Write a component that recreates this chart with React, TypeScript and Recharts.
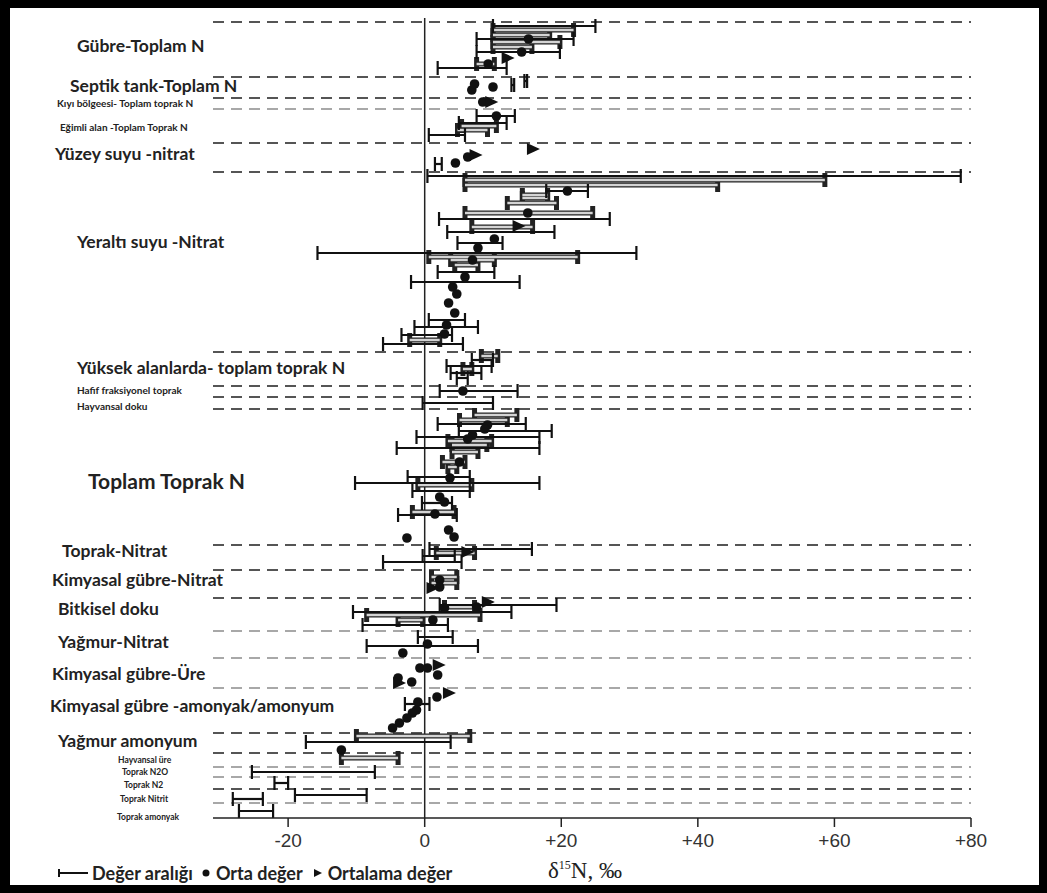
import React from "react";
import { ScatterChart, Scatter, XAxis, YAxis, ErrorBar, ReferenceLine } from "recharts";

// rows: 0 = top of the plot, 800 = the δ15N axis
const categories = [
  "Gübre-Toplam N",
  "Septik tank-Toplam N",
  "Kıyı bölgeesi- Toplam toprak N",
  "Eğimli alan -Toplam Toprak N",
  "Yüzey suyu -nitrat",
  "Yeraltı suyu -Nitrat",
  "Yüksek alanlarda- toplam toprak N",
  "Hafif fraksiyonel toprak",
  "Hayvansal doku",
  "Toplam Toprak N",
  "Toprak-Nitrat",
  "Kimyasal gübre-Nitrat",
  "Bitkisel doku",
  "Yağmur-Nitrat",
  "Kimyasal gübre-Üre",
  "Kimyasal gübre -amonyak/amonyum",
  "Yağmur amonyum",
  "Hayvansal üre",
  "Toprak N2O",
  "Toprak N2",
  "Toprak Nitrit",
  "Toprak amonyak",
];
const categoryRows = [28, 68, 85, 109, 136, 224, 350, 372, 388, 464, 533, 562, 591, 624, 656, 688, 723, 742, 754, 767, 781, 799];

const separatorRows = [4, 59, 80, 91, 125, 154, 334, 368, 379, 391, 527, 552, 580, 613, 640, 670, 715, 735, 749, 759, 771, 785];

const xTicks = [-20, 0, 20, 40, 60, 80];

// [low, high, row]
const rangeLines: [number, number, number][] = [
  [10, 25, 8], [7.6, 21.8, 21], [7.6, 19.8, 34], [1.9, 12, 50],
  [12.7, 13.1, 67], [14.6, 15.0, 63],
  [7.6, 13.2, 98], [5.0, 12, 105], [0.6, 5.9, 117],
  [1.5, 2.5, 146],
  [0.4, 78.5, 158], [17.8, 23.9, 173], [2.1, 27.1, 201], [3.3, 19.0, 214], [4.8, 11.4, 225],
  [-15.7, 31.0, 235], [1.9, 10.2, 254], [-2.0, 13.9, 264], [0.6, 5.9, 302], [-1.5, 7.8, 309],
  [-3.4, 4.0, 317], [-6.1, 5.6, 326],
  [6.9, 10, 342], [3.2, 9.8, 348], [3.8, 8.3, 355], [4.7, 6.3, 360],
  [2.2, 13.6, 373],
  [-0.3, 10.0, 385],
  [1.9, 14.8, 406], [5.0, 18.6, 413], [-1.2, 16.8, 419], [-4.1, 16.8, 430], [-2.5, 6.6, 459],
  [-10.2, 16.8, 465], [-1.8, 6.6, 473], [-0.4, 4.0, 485], [-3.9, 4.7, 497],
  [0.7, 15.7, 531], [-0.3, 4.4, 538], [-6.1, 5.4, 544],
  [2.2, 19.3, 587], [-10.5, 12.7, 594], [-9.1, 3.4, 607],
  [-1.0, 4.1, 619], [-8.5, 7.8, 628],
  [-2.9, 0.7, 686],
  [-17.4, 3.8, 724],
  [-25.3, -7.3, 754],
  [-22, -20, 765],
  [-19, -8.5, 777], [-28.1, -23.7, 781],
  [-27.2, -22.2, 793],
];

const rangeBoxes: [number, number, number][] = [
  [10, 21.8, 12], [10, 18.3, 17], [10, 19.8, 24], [10, 15.7, 29], [7.6, 10.2, 46],
  [5.4, 10.5, 108], [4.8, 9.2, 112],
  [5.9, 58.6, 162], [5.9, 42.9, 167], [14.3, 18, 177], [14.3, 18, 180], [12.1, 19.3, 185],
  [5.9, 24.6, 195], [6.9, 15.8, 209], [0.6, 22.4, 239], [3.8, 10.2, 242], [4.4, 7.8, 247],
  [-2.2, 2.2, 322],
  [8.3, 10.7, 338], [5.6, 6.9, 351],
  [7.3, 13.5, 397], [5.1, 12.1, 402], [3.4, 9.8, 423], [4.0, 9.1, 427], [4.0, 7.8, 434],
  [2.6, 5.9, 444], [3.4, 4.7, 449], [-1.0, 6.9, 467], [-1.8, 4.3, 494],
  [1.7, 7.3, 535],
  [1.0, 4.7, 559], [1.0, 4.7, 565],
  [2.9, 7.3, 589], [-8.5, 8.1, 597], [-3.9, -0.3, 602],
  [-10, 6.6, 718],
  [-12.2, -3.9, 740],
];

// [value, row]
const medians: [number, number][] = [
  [15.2, 21], [14.2, 34], [9.3, 46],
  [6.9, 72], [7.3, 66], [10.0, 69],
  [8.5, 84],
  [10.5, 98],
  [6.3, 139], [4.5, 145],
  [20.9, 173], [15.1, 195], [10.2, 221], [7.8, 230], [7.0, 242], [5.9, 259], [4.1, 269],
  [4.7, 276], [3.5, 285], [4.4, 295], [3.2, 307], [2.9, 316],
  [5.6, 373],
  [9.2, 407], [8.8, 411], [7.0, 417], [6.3, 421], [5.1, 444], [3.7, 460], [2.2, 479],
  [2.9, 484], [1.5, 496], [3.5, 512], [4.3, 519], [-2.6, 520],
  [2.2, 562], [2.2, 569],
  [2.9, 590], [7.6, 589], [1.2, 602],
  [0.4, 626], [-3.2, 635],
  [-0.7, 650], [0.4, 650], [1.9, 657], [-3.9, 660], [-1.9, 664],
  [1.8, 679], [-1.0, 684], [-1.2, 692], [-1.8, 695], [-2.6, 700], [-3.7, 705], [-4.7, 710],
  [-12.2, 732],
];

const means: [number, number][] = [
  [12.0, 40],
  [9.6, 84],
  [15.7, 131], [7.3, 137],
  [13.6, 208],
  [6.1, 534],
  [1.0, 570],
  [9.1, 584],
  [1.9, 647], [-3.9, 665],
  [3.4, 675],
];

// label styling, same order as categories
const labelX = [77, 70, 57, 60, 55, 77, 77, 77, 77, 88, 62, 52, 58, 58, 52, 50, 58, 118, 122, 124, 120, 117];
const labelSize = [17.5, 17.5, 10, 10, 17.5, 17.5, 17.5, 10, 10, 21, 17.5, 17.5, 17.5, 17.5, 17.5, 17.5, 17.5, 8.5, 8.5, 8.5, 8.5, 8.5];
const separatorDark = [1, 1, 1, 0, 1, 1, 1, 1, 1, 1, 1, 1, 1, 0, 0, 0, 1, 1, 0, 0, 1, 0];

const toRange = (r: [number, number, number]) => ({ x: (r[0] + r[1]) / 2, y: r[2], err: (r[1] - r[0]) / 2 });
const lineData = rangeLines.map(toRange);
const boxData = rangeBoxes.map(toRange);
const medianData = medians.map(([x, y]) => ({ x, y }));
const meanData = means.map(([x, y]) => ({ x, y }));

const Hidden = () => <g />;
const Dot = (p: any) => <circle cx={p.cx} cy={p.cy} r={4.8} fill="#111" />;
const Tri = (p: any) => (
  <polygon points={`${p.cx - 5},${p.cy - 6} ${p.cx + 8},${p.cy} ${p.cx - 5},${p.cy + 6}`} fill="#111" />
);

const CategoryTick = (props: any) => {
  const i = categoryRows.indexOf(props.payload.value);
  if (i < 0) return null;
  return (
    <text
      x={labelX[i]}
      y={props.y}
      dy="0.35em"
      fontSize={labelSize[i]}
      fontFamily="Lato"
      fontWeight={700}
      fill="#222"
    >
      {categories[i]}
    </text>
  );
};

const fmt = (v: number) => (v > 0 ? `+${v}` : `${v}`);

export default function App() {
  return (
    <div style={{ position: "fixed", left: 0, top: 0, width: 1047, height: 893, background: "#fff" }}>
      <ScatterChart width={1047} height={893} margin={{ top: 18, right: 76, bottom: 15, left: 0 }}>
        <XAxis
          type="number"
          dataKey="x"
          domain={[-31, 80]}
          allowDataOverflow
          ticks={xTicks}
          tickFormatter={fmt}
          height={60}
          stroke="#222"
          strokeWidth={1.5}
          tickSize={9}
          tickMargin={7}
          tick={{ fontSize: 19, fill: "#333", fontFamily: "Liberation Sans" }}
        />
        <YAxis
          type="number"
          dataKey="y"
          domain={[0, 800]}
          reversed
          allowDataOverflow
          width={213}
          ticks={categoryRows}
          interval={0}
          axisLine={false}
          tickLine={false}
          tick={<CategoryTick />}
        />
        {separatorRows.map((r, i) => (
          <ReferenceLine
            key={r}
            y={r}
            stroke={separatorDark[i] ? "#555" : "#a8a8a8"}
            strokeWidth={2}
            strokeDasharray="11 7"
          />
        ))}
        <ReferenceLine x={0} stroke="#222" strokeWidth={1.5} />
        <Scatter data={boxData} shape={<Hidden />} isAnimationActive={false}>
          <ErrorBar dataKey="err" direction="x" width={7} stroke="#222" strokeWidth={5} />
          <ErrorBar dataKey="err" direction="x" width={0} stroke="#d4d4d4" strokeWidth={2.5} />
        </Scatter>
        <Scatter data={lineData} shape={<Hidden />} isAnimationActive={false}>
          <ErrorBar dataKey="err" direction="x" width={7} stroke="#111" strokeWidth={2.2} />
        </Scatter>
        <Scatter data={medianData} shape={<Dot />} isAnimationActive={false} />
        <Scatter data={meanData} shape={<Tri />} isAnimationActive={false} />
      </ScatterChart>

      <div
        style={{
          position: "absolute",
          left: 548,
          top: 853,
          fontFamily: "Liberation Serif",
          fontSize: 23,
          lineHeight: "24px",
          color: "#222",
          whiteSpace: "nowrap",
        }}
      >
        δ<sup style={{ fontSize: 12 }}>15</sup>N, ‰
      </div>

      <div
        style={{
          position: "absolute",
          left: 56,
          top: 863,
          display: "flex",
          alignItems: "center",
          fontFamily: "Lato",
          fontWeight: 700,
          fontSize: 18,
          lineHeight: "20px",
          color: "#222",
          whiteSpace: "nowrap",
        }}
      >
        <svg width={34} height={12} style={{ marginRight: 2 }}>
          <line x1={3} y1={6} x2={32} y2={6} stroke="#111" strokeWidth={2} />
          <line x1={3} y1={2} x2={3} y2={10} stroke="#111" strokeWidth={2} />
        </svg>
        <span>Değer aralığı</span>
        <svg width={14} height={12} style={{ marginLeft: 6 }}>
          <circle cx={7} cy={6} r={3.5} fill="#111" />
        </svg>
        <span style={{ marginLeft: 3 }}>Orta değer</span>
        <svg width={14} height={12} style={{ marginLeft: 8 }}>
          <polygon points="3,2 11,6 3,10" fill="#111" />
        </svg>
        <span style={{ marginLeft: 3 }}>Ortalama değer</span>
      </div>

      <div
        style={{
          position: "absolute",
          left: 0,
          top: 0,
          width: 1047,
          height: 893,
          boxSizing: "border-box",
          borderTop: "8px solid #000",
          borderLeft: "10px solid #000",
          borderBottom: "8px solid #000",
          borderRight: "8px solid #000",
          pointerEvents: "none",
        }}
      />
    </div>
  );
}
